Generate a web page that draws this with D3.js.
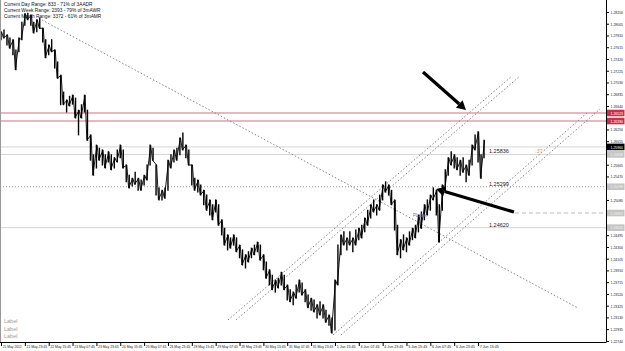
<!DOCTYPE html>
<html>
<head>
<meta charset="utf-8">
<script src="https://cdn.jsdelivr.net/npm/d3@7"></script>
<style>
  body { margin: 0; background: #fff; }
  svg { display: block; font-family: "Liberation Sans", Arial, sans-serif; }
</style>
</head>
<body>
<div id="chart"></div>
<script>
// EURUSD bars, 21 May - 7 Jun 2012 (high / low per bar)
const highs = [
  1.2787, 1.2790, 1.2782, 1.2777, 1.2774, 1.2757, 1.2777, 1.2803, 1.2817, 1.2818,
  1.2815, 1.2803, 1.2807, 1.2810, 1.2793, 1.2774, 1.2765, 1.2774, 1.2757, 1.2737,
  1.2715, 1.2687, 1.2674, 1.2680, 1.2682, 1.2677, 1.2657, 1.2666, 1.2682, 1.2657,
  1.2616, 1.2583, 1.2599, 1.2594, 1.2591, 1.2583, 1.2588, 1.2583, 1.2578, 1.2591,
  1.2599, 1.2591, 1.2566, 1.2549, 1.2544, 1.2554, 1.2544, 1.2541, 1.2549, 1.2566,
  1.2599, 1.2594, 1.2566, 1.2528, 1.2524, 1.2528, 1.2574, 1.2583, 1.2591, 1.2594,
  1.2611, 1.2619, 1.2599, 1.2591, 1.2566, 1.2544, 1.2541, 1.2533, 1.2524, 1.2516,
  1.2508, 1.2500, 1.2508, 1.2500, 1.2475, 1.2461, 1.2450, 1.2445, 1.2450, 1.2445,
  1.2433, 1.2425, 1.2417, 1.2422, 1.2428, 1.2433, 1.2438, 1.2433, 1.2417, 1.2405,
  1.2392, 1.2383, 1.2375, 1.2378, 1.2388, 1.2383, 1.2367, 1.2359, 1.2355, 1.2367,
  1.2375, 1.2370, 1.2359, 1.2350, 1.2345, 1.2342, 1.2334, 1.2339, 1.2334, 1.2325,
  1.2317, 1.2312, 1.2375, 1.2433, 1.2450, 1.2455, 1.2445, 1.2455, 1.2445, 1.2458,
  1.2461, 1.2466, 1.2478, 1.2491, 1.2500, 1.2508, 1.2500, 1.2516, 1.2533, 1.2538,
  1.2533, 1.2524, 1.2508, 1.2466, 1.2442, 1.2450, 1.2445, 1.2455, 1.2461, 1.2466,
  1.2483, 1.2488, 1.2500, 1.2508, 1.2516, 1.2528, 1.2524, 1.2500, 1.2533, 1.2558,
  1.2578, 1.2588, 1.2583, 1.2578, 1.2574, 1.2578, 1.2566, 1.2574, 1.2599, 1.2616,
  1.2621, 1.2583, 1.2607
];
const lows = [
  1.2774, 1.2777, 1.2765, 1.2760, 1.2749, 1.2724, 1.2754, 1.2774, 1.2798, 1.2807,
  1.2798, 1.2785, 1.2787, 1.2793, 1.2770, 1.2744, 1.2749, 1.2754, 1.2727, 1.2710,
  1.2666, 1.2666, 1.2654, 1.2664, 1.2667, 1.2644, 1.2616, 1.2644, 1.2654, 1.2607,
  1.2574, 1.2549, 1.2561, 1.2574, 1.2566, 1.2561, 1.2571, 1.2558, 1.2561, 1.2571,
  1.2578, 1.2561, 1.2538, 1.2528, 1.2531, 1.2534, 1.2524, 1.2524, 1.2533, 1.2541,
  1.2566, 1.2574, 1.2516, 1.2508, 1.2508, 1.2511, 1.2524, 1.2561, 1.2571, 1.2574,
  1.2583, 1.2591, 1.2578, 1.2566, 1.2533, 1.2524, 1.2521, 1.2516, 1.2500, 1.2491,
  1.2483, 1.2475, 1.2488, 1.2466, 1.2450, 1.2433, 1.2425, 1.2428, 1.2433, 1.2422,
  1.2412, 1.2400, 1.2395, 1.2405, 1.2412, 1.2417, 1.2422, 1.2408, 1.2392, 1.2378,
  1.2367, 1.2359, 1.2355, 1.2362, 1.2367, 1.2359, 1.2342, 1.2339, 1.2334, 1.2345,
  1.2355, 1.2350, 1.2339, 1.2329, 1.2325, 1.2322, 1.2312, 1.2317, 1.2312, 1.2305,
  1.2300, 1.2287, 1.2292, 1.2367, 1.2417, 1.2433, 1.2425, 1.2433, 1.2422, 1.2433,
  1.2442, 1.2445, 1.2455, 1.2466, 1.2478, 1.2488, 1.2483, 1.2491, 1.2508, 1.2521,
  1.2516, 1.2500, 1.2458, 1.2417, 1.2412, 1.2425, 1.2422, 1.2433, 1.2442, 1.2445,
  1.2455, 1.2461, 1.2475, 1.2483, 1.2491, 1.2508, 1.2483, 1.2438, 1.2491, 1.2524,
  1.2549, 1.2566, 1.2561, 1.2558, 1.2549, 1.2554, 1.2538, 1.2549, 1.2566, 1.2591,
  1.2571, 1.2544, 1.2578
];

// time axis labels, one every 8 bars
const timeLabels = [
  "21 May 2012", "21 May 23:45", "22 May 15:45", "23 May 07:45", "23 May 23:45",
  "24 May 15:45", "25 May 07:45", "25 May 23:45", "28 May 15:45", "29 May 07:45",
  "29 May 23:45", "30 May 15:45", "31 May 07:45", "31 May 23:45", "1 Jun 15:45",
  "4 Jun 07:45", "4 Jun 23:45", "5 Jun 15:45", "6 Jun 07:45", "6 Jun 23:45",
  "7 Jun 15:45"
];

// price axis ticks
const priceTicks = [
  1.28200, 1.28005, 1.27810, 1.27615, 1.27420, 1.27225, 1.27030, 1.26835, 1.26640,
  1.26445, 1.26250, 1.26055, 1.25860, 1.25665, 1.25470, 1.25275, 1.25080, 1.24885,
  1.24690, 1.24495, 1.24300, 1.24105, 1.23910, 1.23715, 1.23520, 1.23325, 1.23130,
  1.22935, 1.22740
];

// horizontal levels
const rangeLevels = [1.26523, 1.26390];          // pink lines (red tags)
const bidPrice = 1.25960;                        // black tag
const textLevels = [1.25836, 1.25299, 1.24620];  // labelled levels
const pivotLevel = 1.24863;                      // dashed line

const infoLines = [
  "Current Day Range: 833 - 71% of 3AADR",
  "Current Week Range: 2393 - 79% of 3mAWR",
  "Current Month Range: 3372 - 61% of 3mAMR"
];

const width = 625, height = 351;
const plotW = 606, plotH = 342;

const svg = d3.select("#chart").append("svg")
  .attr("width", width)
  .attr("height", height);

const x = d3.scaleLinear().domain([0, 163]).range([1, 487]);
const y = d3.scaleLinear().domain([1.227218, 1.28399]).range([plotH, 0]);

// horizontal level lines
svg.selectAll(".range-line")
  .data(rangeLevels)
  .join("line")
  .attr("x1", 0).attr("x2", plotW)
  .attr("y1", d => y(d)).attr("y2", d => y(d))
  .attr("stroke", "#dca2b0")
  .attr("stroke-width", 1.4);

svg.append("line")
  .attr("x1", 0).attr("x2", plotW)
  .attr("y1", y(bidPrice)).attr("y2", y(bidPrice))
  .attr("stroke", "#d4d4d4");

svg.selectAll(".text-line")
  .data(textLevels)
  .join("line")
  .attr("x1", 0).attr("x2", plotW)
  .attr("y1", d => y(d)).attr("y2", d => y(d))
  .attr("stroke", (d, i) => i === 1 ? "#999" : "#d4d4d4")
  .attr("stroke-dasharray", (d, i) => i === 1 ? "1,2" : null);

svg.append("line")
  .attr("x1", 515).attr("x2", plotW)
  .attr("y1", y(pivotLevel)).attr("y2", y(pivotLevel))
  .attr("stroke", "#bbb")
  .attr("stroke-dasharray", "4,3");

// trend lines (dotted)
const trendLines = [
  [[42, 20], [578, 308]],
  [[228, 320], [512, 76]],
  [[236, 320], [520, 76]],
  [[333, 335], [588, 112]],
  [[341, 335], [600, 109]]
];
svg.selectAll(".trend")
  .data(trendLines)
  .join("line")
  .attr("x1", d => d[0][0]).attr("y1", d => d[0][1])
  .attr("x2", d => d[1][0]).attr("y2", d => d[1][1])
  .attr("stroke", "#777")
  .attr("stroke-width", 0.9)
  .attr("stroke-dasharray", "1.5,2");

// price bars: vertical high-low bars plus a thin line joining them
svg.selectAll(".bar")
  .data(highs)
  .join("line")
  .attr("x1", (d, i) => x(i)).attr("x2", (d, i) => x(i))
  .attr("y1", d => y(d) - 0.5)
  .attr("y2", (d, i) => y(lows[i]) + 0.5)
  .attr("stroke", "#000")
  .attr("stroke-width", 1.4);

svg.append("path")
  .attr("d", d3.line()
    .x((d, i) => x(i) + (i % 2 ? -0.6 : 0.6))
    .y((d, i) => i % 2 ? y(lows[i]) : y(d))(highs))
  .attr("fill", "none")
  .attr("stroke", "#000")
  .attr("stroke-width", 0.9);

// level texts
svg.selectAll(".level-text")
  .data(textLevels)
  .join("text")
  .attr("x", 489)
  .attr("y", d => y(d) - 1)
  .attr("font-size", 5.5)
  .attr("fill", "#222")
  .text(d => d.toFixed(5));

svg.append("text")
  .attr("x", 535).attr("y", y(textLevels[0]) - 1)
  .attr("font-size", 5.5)
  .attr("fill", "#c9a46a")
  .text(":37");

svg.append("text")
  .attr("x", 413).attr("y", y(pivotLevel) + 4)
  .attr("font-size", 4.5)
  .attr("fill", "#7070a8")
  .text("PLabel");

// arrows
function arrow(x1, y1, x2, y2) {
  const dx = x2 - x1, dy = y2 - y1, len = Math.hypot(dx, dy);
  const ux = dx / len, uy = dy / len;
  const bx = x2 - ux * 9, by = y2 - uy * 9;
  svg.append("line")
    .attr("x1", x1).attr("y1", y1).attr("x2", bx).attr("y2", by)
    .attr("stroke", "#000").attr("stroke-width", 3.2);
  svg.append("polygon")
    .attr("points", [[x2, y2], [bx - uy * 5, by + ux * 5], [bx + uy * 5, by - ux * 5]].join(" "))
    .attr("fill", "#000");
}
arrow(423, 72, 466, 110);
arrow(514, 212, 436, 189);

// info text top left
svg.selectAll(".info")
  .data(infoLines)
  .join("text")
  .attr("x", 4)
  .attr("y", (d, i) => 5.5 + i * 6)
  .attr("font-size", 4.8)
  .attr("fill", "#111")
  .text(d => d);

// "Label" placeholders bottom left
svg.selectAll(".lbl")
  .data(["Label", "Label", "Label"])
  .join("text")
  .attr("x", 4)
  .attr("y", (d, i) => 323 + i * 7.5)
  .attr("font-size", 5.5)
  .attr("fill", "#999")
  .text(d => d);

// frame
svg.append("line")
  .attr("x1", 0.5).attr("x2", 0.5).attr("y1", 0).attr("y2", plotH)
  .attr("stroke", "#999");

// price tags sit on the axis and hide the tick labels under them
const tagLevels = [...rangeLevels, ...textLevels, pivotLevel, bidPrice];
const visibleTicks = priceTicks.filter(t => tagLevels.every(v => Math.abs(y(v) - y(t)) > 5));

// price axis
const yAxis = svg.append("g")
  .attr("transform", `translate(${plotW},0)`)
  .call(d3.axisRight(y).tickValues(visibleTicks).tickSize(3).tickPadding(1.5)
    .tickFormat(d => d.toFixed(5)));
yAxis.select(".domain").attr("stroke", "#000").attr("d", `M0.5,0V${plotH}`);
yAxis.selectAll("text")
  .attr("font-size", 4.3)
  .attr("fill", "#222")
  .attr("textLength", 12.5)
  .attr("lengthAdjust", "spacingAndGlyphs");

// time axis
const xAxis = svg.append("g")
  .attr("transform", `translate(0,${plotH})`)
  .call(d3.axisBottom(x).tickValues(d3.range(0, 161, 8)).tickSize(4)
    .tickFormat((d, i) => timeLabels[i]));
xAxis.select(".domain").attr("stroke", "#000").attr("d", `M0,0.5H${plotW + 0.5}`);
xAxis.selectAll("text")
  .attr("font-size", 4.2)
  .attr("fill", "#222")
  .attr("text-anchor", "start")
  .attr("dx", 1.2)
  .attr("dy", -1.5)
  .attr("textLength", (d, i) => timeLabels[i].length > 11 ? 20.5 : 19)
  .attr("lengthAdjust", "spacingAndGlyphs");

function tag(v, fill, color) {
  const g = svg.append("g").attr("transform", `translate(${plotW + 1},${y(v)})`);
  g.append("rect").attr("x", 0).attr("y", -3.3).attr("width", 17.5).attr("height", 6.6).attr("fill", fill);
  g.append("text").attr("x", 3.5).attr("y", 1.6).attr("font-size", 4.3).attr("fill", color)
    .attr("textLength", 12.5).attr("lengthAdjust", "spacingAndGlyphs").text(v.toFixed(5));
}
textLevels.forEach(v => tag(v, "#c4c4c4", "#f2f2f2"));
tag(pivotLevel, "#c4c4c4", "#f2f2f2");
rangeLevels.forEach(v => tag(v, "#c9304c", "#fff"));
tag(bidPrice, "#000", "#fff");
</script>
</body>
</html>
